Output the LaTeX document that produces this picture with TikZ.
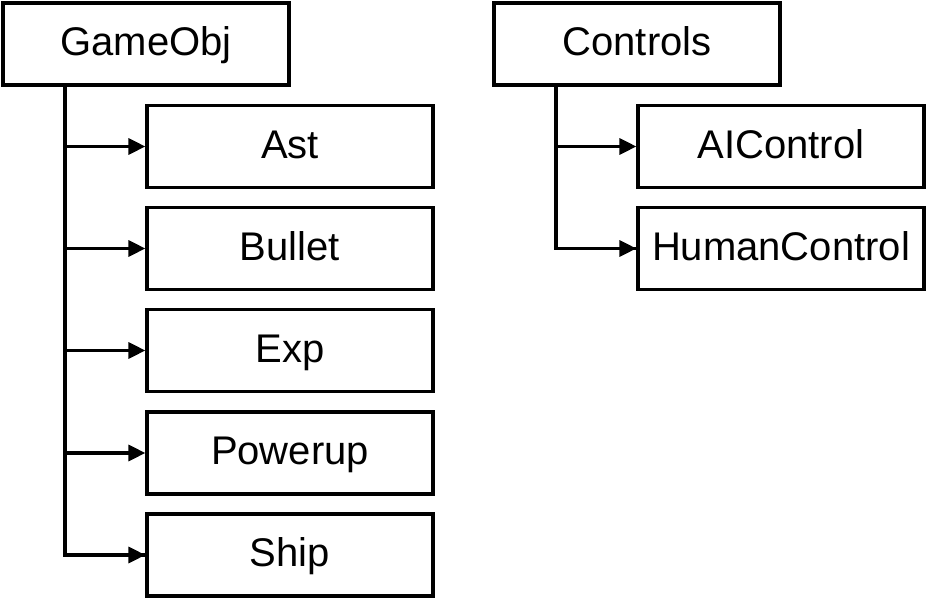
\documentclass[tikz,border=0pt]{standalone}
\usepackage{fontspec}
\setmainfont{Liberation Sans}
\usetikzlibrary{arrows.meta}
\begin{document}
\begin{tikzpicture}[x=0.5pt,y=-0.5pt,
  cls/.style={draw=black, line width=1.6pt, fill=white, inner sep=0pt,
    minimum width=143pt, minimum height=41pt},
  lbl/.style={font=\fontsize{20}{24}\selectfont, inner sep=0pt,
    text height=14.3pt, text depth=0pt, yshift=1.2pt},
  link/.style={draw=black, line width=1.6pt},
  arr/.style={link, -{Triangle[length=8.5pt,width=8pt]}}]
\useasboundingbox (0,0) rectangle (926,598);

% left hierarchy
\node[cls] (GameObj) at (146,44) {};
\node[cls] (Ast)     at (290,146.5) {};
\node[cls] (Bullet)  at (290,248.5) {};
\node[cls] (Exp)     at (290,350.5) {};
\node[cls] (Powerup) at (290,453) {};
\node[cls] (Ship)    at (290,555) {};

% right hierarchy
\node[cls] (Controls) at (637,44) {};
\node[cls] (AIControl) at (781,146.5) {};
\node[cls] (HumanControl) at (781,248.5) {};

% class names, caps centred a little above each box centre
\foreach \c in {GameObj,Ast,Bullet,Exp,Powerup,Ship,Controls,AIControl,HumanControl}
  \node[lbl] (\c-name) at (\c) {\c};

% trunk starting points under each parent
\coordinate (gtrunk) at (65,85);
\coordinate (ctrunk) at (556,85);

\draw[link] (gtrunk) |- (Ship.west);
\foreach \c in {Ast,Bullet,Exp,Powerup,Ship}
  \draw[arr] (gtrunk) |- (\c.west);

\draw[link] (ctrunk) |- (HumanControl.west);
\foreach \c in {AIControl,HumanControl}
  \draw[arr] (ctrunk) |- (\c.west);
\end{tikzpicture}
\end{document}
